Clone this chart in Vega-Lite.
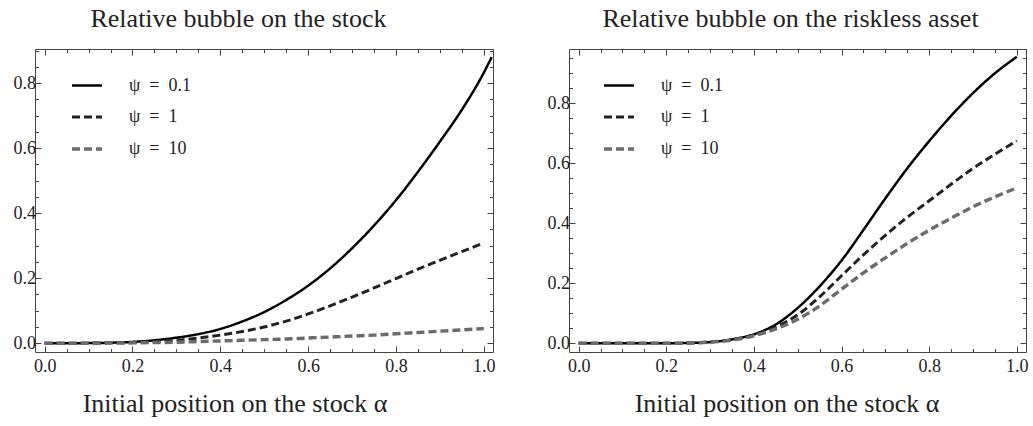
{
  "$schema": "https://vega.github.io/schema/vega-lite/v6.json",
  "background": "white",
  "padding": {"left": 12, "top": 4, "right": 0, "bottom": 0},
  "config": {
    "font": "Liberation Serif",
    "view": {"stroke": "#444", "strokeWidth": 1}
  },
  "datasets": {
    "stock": [
      {"alpha":0,"psi":"0.1","v":0},{"alpha":0.05,"psi":"0.1","v":0},{"alpha":0.1,"psi":"0.1","v":0.0005},{"alpha":0.15,"psi":"0.1","v":0.0015},{"alpha":0.2,"psi":"0.1","v":0.004},{"alpha":0.25,"psi":"0.1","v":0.009},{"alpha":0.3,"psi":"0.1","v":0.017},{"alpha":0.35,"psi":"0.1","v":0.028},{"alpha":0.4,"psi":"0.1","v":0.044},{"alpha":0.45,"psi":"0.1","v":0.067},{"alpha":0.5,"psi":"0.1","v":0.096},{"alpha":0.55,"psi":"0.1","v":0.133},{"alpha":0.6,"psi":"0.1","v":0.177},{"alpha":0.65,"psi":"0.1","v":0.23},{"alpha":0.7,"psi":"0.1","v":0.292},{"alpha":0.75,"psi":"0.1","v":0.362},{"alpha":0.8,"psi":"0.1","v":0.44},{"alpha":0.85,"psi":"0.1","v":0.527},{"alpha":0.9,"psi":"0.1","v":0.62},{"alpha":0.95,"psi":"0.1","v":0.718},{"alpha":1,"psi":"0.1","v":0.832},{"alpha":1.018,"psi":"0.1","v":0.88},
      {"alpha":0,"psi":"1","v":0},{"alpha":0.05,"psi":"1","v":0},{"alpha":0.1,"psi":"1","v":0.0003},{"alpha":0.15,"psi":"1","v":0.001},{"alpha":0.2,"psi":"1","v":0.002},{"alpha":0.25,"psi":"1","v":0.005},{"alpha":0.3,"psi":"1","v":0.009},{"alpha":0.35,"psi":"1","v":0.016},{"alpha":0.4,"psi":"1","v":0.025},{"alpha":0.45,"psi":"1","v":0.036},{"alpha":0.5,"psi":"1","v":0.05},{"alpha":0.55,"psi":"1","v":0.068},{"alpha":0.6,"psi":"1","v":0.09},{"alpha":0.65,"psi":"1","v":0.115},{"alpha":0.7,"psi":"1","v":0.142},{"alpha":0.75,"psi":"1","v":0.17},{"alpha":0.8,"psi":"1","v":0.199},{"alpha":0.85,"psi":"1","v":0.228},{"alpha":0.9,"psi":"1","v":0.255},{"alpha":0.95,"psi":"1","v":0.282},{"alpha":1,"psi":"1","v":0.308},
      {"alpha":0,"psi":"10","v":0},{"alpha":0.05,"psi":"10","v":0},{"alpha":0.1,"psi":"10","v":0.0002},{"alpha":0.15,"psi":"10","v":0.0005},{"alpha":0.2,"psi":"10","v":0.001},{"alpha":0.25,"psi":"10","v":0.002},{"alpha":0.3,"psi":"10","v":0.003},{"alpha":0.35,"psi":"10","v":0.005},{"alpha":0.4,"psi":"10","v":0.007},{"alpha":0.45,"psi":"10","v":0.009},{"alpha":0.5,"psi":"10","v":0.011},{"alpha":0.55,"psi":"10","v":0.013},{"alpha":0.6,"psi":"10","v":0.016},{"alpha":0.65,"psi":"10","v":0.019},{"alpha":0.7,"psi":"10","v":0.022},{"alpha":0.75,"psi":"10","v":0.025},{"alpha":0.8,"psi":"10","v":0.029},{"alpha":0.85,"psi":"10","v":0.033},{"alpha":0.9,"psi":"10","v":0.037},{"alpha":0.95,"psi":"10","v":0.041},{"alpha":1,"psi":"10","v":0.045}
    ],
    "riskless": [
      {"alpha":0,"psi":"0.1","v":0},{"alpha":0.05,"psi":"0.1","v":0},{"alpha":0.1,"psi":"0.1","v":0},{"alpha":0.15,"psi":"0.1","v":0},{"alpha":0.2,"psi":"0.1","v":0.0002},{"alpha":0.25,"psi":"0.1","v":0.001},{"alpha":0.3,"psi":"0.1","v":0.004},{"alpha":0.35,"psi":"0.1","v":0.013},{"alpha":0.4,"psi":"0.1","v":0.03},{"alpha":0.45,"psi":"0.1","v":0.063},{"alpha":0.5,"psi":"0.1","v":0.118},{"alpha":0.55,"psi":"0.1","v":0.19},{"alpha":0.6,"psi":"0.1","v":0.276},{"alpha":0.65,"psi":"0.1","v":0.378},{"alpha":0.7,"psi":"0.1","v":0.483},{"alpha":0.75,"psi":"0.1","v":0.583},{"alpha":0.8,"psi":"0.1","v":0.674},{"alpha":0.85,"psi":"0.1","v":0.758},{"alpha":0.9,"psi":"0.1","v":0.834},{"alpha":0.95,"psi":"0.1","v":0.9},{"alpha":1,"psi":"0.1","v":0.955},
      {"alpha":0,"psi":"1","v":0},{"alpha":0.05,"psi":"1","v":0},{"alpha":0.1,"psi":"1","v":0},{"alpha":0.15,"psi":"1","v":0},{"alpha":0.2,"psi":"1","v":0.0002},{"alpha":0.25,"psi":"1","v":0.001},{"alpha":0.3,"psi":"1","v":0.004},{"alpha":0.35,"psi":"1","v":0.012},{"alpha":0.4,"psi":"1","v":0.028},{"alpha":0.45,"psi":"1","v":0.055},{"alpha":0.5,"psi":"1","v":0.095},{"alpha":0.55,"psi":"1","v":0.155},{"alpha":0.6,"psi":"1","v":0.225},{"alpha":0.65,"psi":"1","v":0.295},{"alpha":0.7,"psi":"1","v":0.36},{"alpha":0.75,"psi":"1","v":0.42},{"alpha":0.8,"psi":"1","v":0.475},{"alpha":0.85,"psi":"1","v":0.53},{"alpha":0.9,"psi":"1","v":0.583},{"alpha":0.95,"psi":"1","v":0.63},{"alpha":1,"psi":"1","v":0.675},
      {"alpha":0,"psi":"10","v":0},{"alpha":0.05,"psi":"10","v":0},{"alpha":0.1,"psi":"10","v":0},{"alpha":0.15,"psi":"10","v":0},{"alpha":0.2,"psi":"10","v":0.0002},{"alpha":0.25,"psi":"10","v":0.001},{"alpha":0.3,"psi":"10","v":0.004},{"alpha":0.35,"psi":"10","v":0.011},{"alpha":0.4,"psi":"10","v":0.025},{"alpha":0.45,"psi":"10","v":0.048},{"alpha":0.5,"psi":"10","v":0.08},{"alpha":0.55,"psi":"10","v":0.125},{"alpha":0.6,"psi":"10","v":0.18},{"alpha":0.65,"psi":"10","v":0.235},{"alpha":0.7,"psi":"10","v":0.285},{"alpha":0.75,"psi":"10","v":0.333},{"alpha":0.8,"psi":"10","v":0.377},{"alpha":0.85,"psi":"10","v":0.417},{"alpha":0.9,"psi":"10","v":0.455},{"alpha":0.95,"psi":"10","v":0.488},{"alpha":1,"psi":"10","v":0.518}
    ]
  },
  "hconcat": [
    {
      "width": 458, "height": 303,
      "data": {"name": "stock"},
      "layer": [
        {
          "mark": {"type": "line", "clip": true, "strokeCap": "butt", "interpolate": "monotone"},
          "encoding": {
            "x": {"field": "alpha", "type": "quantitative", "scale": {"domain": [-0.022, 1.021], "nice": false, "zero": false},
              "axis": {"orient": "bottom", "values": [0,0.05,0.1,0.15,0.2,0.25,0.3,0.35,0.4,0.45,0.5,0.55,0.6,0.65,0.7,0.75,0.8,0.85,0.9,0.95,1], "domain": false, "grid": false, "tickColor": "#444", "tickWidth": 1,
                "tickSize": {"condition": {"test": "abs(datum.value*5-round(datum.value*5))<1e-6", "value": -6}, "value": -3.5},
                "labelExpr": "abs(datum.value*5-round(datum.value*5))<1e-6 ? format(datum.value,'.1f') : ''",
                "labelOverlap": false, "labelFlush": false, "labelBound": false, "labelFontSize": 18, "labelFont": "Liberation Serif", "labelColor": "#222", "labelPadding": 11.5,
                "title": "Initial position on the stock α", "titleFontSize": 26, "titleFontWeight": "normal", "titleFont": "Liberation Serif", "titleColor": "#222", "titleX": 199.5, "titleY": 59, "titleBaseline": "alphabetic", "titleAlign": "center", "titleAnchor": null}},
            "y": {"field": "v", "type": "quantitative", "scale": {"domain": [-0.027, 0.905], "nice": false, "zero": false},
              "axis": {"orient": "left", "values": [0,0.05,0.1,0.15,0.2,0.25,0.3,0.35,0.4,0.45,0.5,0.55,0.6,0.65,0.7,0.75,0.8,0.85,0.9], "domain": false, "grid": false, "tickColor": "#444", "tickWidth": 1,
                "tickSize": {"condition": {"test": "abs(datum.value*5-round(datum.value*5))<1e-6", "value": -6}, "value": -3.5},
                "labelExpr": "abs(datum.value*5-round(datum.value*5))<1e-6 ? format(datum.value,'.1f') : ''",
                "labelOverlap": false, "labelFlush": false, "labelBound": false, "labelFontSize": 18, "labelFont": "Liberation Serif", "labelColor": "#222", "labelPadding": 5.5,
                "title": null}},
            "color": {"field": "psi", "type": "nominal", "scale": {"domain": ["0.1","1","10"], "range": ["#000000","#222222","#6b6b6b"]},
              "legend": {"orient": "none", "legendX": 35, "legendY": 20, "title": null, "symbolType": "stroke", "symbolSize": 900, "symbolStrokeWidth": 3, "labelOffset": 25, "labelFontSize": 18, "labelFont": "Liberation Serif", "labelColor": "#222", "rowPadding": 5.5, "labelExpr": "'ψ\u2002=\u2002' + datum.label"}},
            "strokeDash": {"field": "psi", "type": "nominal", "scale": {"domain": ["0.1","1","10"], "range": [[1,0],[8,4],[8,4]]},
              "legend": {"orient": "none", "legendX": 35, "legendY": 20, "title": null, "symbolType": "stroke", "symbolSize": 900, "symbolStrokeWidth": 3, "labelOffset": 25, "labelFontSize": 18, "labelFont": "Liberation Serif", "labelColor": "#222", "rowPadding": 5.5, "labelExpr": "'ψ\u2002=\u2002' + datum.label"}},
            "strokeWidth": {"field": "psi", "type": "nominal", "scale": {"domain": ["0.1","1","10"], "range": [2.5,3.4,3.4]},
              "legend": {"orient": "none", "legendX": 35, "legendY": 20, "title": null, "symbolType": "stroke", "symbolSize": 900, "labelOffset": 25, "labelFontSize": 18, "labelFont": "Liberation Serif", "labelColor": "#222", "rowPadding": 5.5, "labelExpr": "'ψ\u2002=\u2002' + datum.label"}}
          }
        },
        {
          "mark": {"type": "line", "opacity": 0},
          "encoding": {
            "x": {"field": "alpha", "type": "quantitative", "scale": {"domain": [-0.022, 1.021], "nice": false, "zero": false},
              "axis": {"orient": "top", "values": [0,0.05,0.1,0.15,0.2,0.25,0.3,0.35,0.4,0.45,0.5,0.55,0.6,0.65,0.7,0.75,0.8,0.85,0.9,0.95,1], "domain": false, "grid": false, "labels": false, "tickColor": "#444", "tickWidth": 1,
                "tickSize": {"condition": {"test": "abs(datum.value*5-round(datum.value*5))<1e-6", "value": -6}, "value": -3.5},
                "title": "Relative bubble on the stock", "titleFontSize": 26, "titleFontWeight": "normal", "titleFont": "Liberation Serif", "titleColor": "#222", "titleX": 203, "titleY": -23, "titleBaseline": "alphabetic", "titleAlign": "center", "titleAnchor": null}},
            "y": {"field": "v", "type": "quantitative", "scale": {"domain": [-0.027, 0.905], "nice": false, "zero": false},
              "axis": {"orient": "right", "values": [0,0.05,0.1,0.15,0.2,0.25,0.3,0.35,0.4,0.45,0.5,0.55,0.6,0.65,0.7,0.75,0.8,0.85,0.9], "domain": false, "grid": false, "labels": false, "title": null, "tickColor": "#444", "tickWidth": 1,
                "tickSize": {"condition": {"test": "abs(datum.value*5-round(datum.value*5))<1e-6", "value": -6}, "value": -3.5}}}
          }
        }
      ],
      "resolve": {"axis": {"x": "independent", "y": "independent"}}
    },
    {
      "width": 457, "height": 303,
      "data": {"name": "riskless"},
      "layer": [
        {
          "mark": {"type": "line", "clip": true, "strokeCap": "butt", "interpolate": "monotone"},
          "encoding": {
            "x": {"field": "alpha", "type": "quantitative", "scale": {"domain": [-0.022, 1.021], "nice": false, "zero": false},
              "axis": {"orient": "bottom", "values": [0,0.05,0.1,0.15,0.2,0.25,0.3,0.35,0.4,0.45,0.5,0.55,0.6,0.65,0.7,0.75,0.8,0.85,0.9,0.95,1], "domain": false, "grid": false, "tickColor": "#444", "tickWidth": 1,
                "tickSize": {"condition": {"test": "abs(datum.value*5-round(datum.value*5))<1e-6", "value": -6}, "value": -3.5},
                "labelExpr": "abs(datum.value*5-round(datum.value*5))<1e-6 ? format(datum.value,'.1f') : ''",
                "labelOverlap": false, "labelFlush": false, "labelBound": false, "labelFontSize": 18, "labelFont": "Liberation Serif", "labelColor": "#222", "labelPadding": 11.5,
                "title": "Initial position on the stock α", "titleFontSize": 26, "titleFontWeight": "normal", "titleFont": "Liberation Serif", "titleColor": "#222", "titleX": 217.5, "titleY": 59, "titleBaseline": "alphabetic", "titleAlign": "center", "titleAnchor": null}},
            "y": {"field": "v", "type": "quantitative", "scale": {"domain": [-0.029, 0.981], "nice": false, "zero": false},
              "axis": {"orient": "left", "values": [0,0.05,0.1,0.15,0.2,0.25,0.3,0.35,0.4,0.45,0.5,0.55,0.6,0.65,0.7,0.75,0.8,0.85,0.9,0.95], "domain": false, "grid": false, "tickColor": "#444", "tickWidth": 1,
                "tickSize": {"condition": {"test": "abs(datum.value*5-round(datum.value*5))<1e-6", "value": -6}, "value": -3.5},
                "labelExpr": "abs(datum.value*5-round(datum.value*5))<1e-6 ? format(datum.value,'.1f') : ''",
                "labelOverlap": false, "labelFlush": false, "labelBound": false, "labelFontSize": 18, "labelFont": "Liberation Serif", "labelColor": "#222", "labelPadding": 5.5,
                "title": null}},
            "color": {"field": "psi", "type": "nominal", "scale": {"domain": ["0.1","1","10"], "range": ["#000000","#222222","#6b6b6b"]},
              "legend": {"orient": "none", "legendX": 33, "legendY": 20, "title": null, "symbolType": "stroke", "symbolSize": 900, "symbolStrokeWidth": 3, "labelOffset": 25, "labelFontSize": 18, "labelFont": "Liberation Serif", "labelColor": "#222", "rowPadding": 5.5, "labelExpr": "'ψ\u2002=\u2002' + datum.label"}},
            "strokeDash": {"field": "psi", "type": "nominal", "scale": {"domain": ["0.1","1","10"], "range": [[1,0],[8,4],[8,4]]},
              "legend": {"orient": "none", "legendX": 33, "legendY": 20, "title": null, "symbolType": "stroke", "symbolSize": 900, "symbolStrokeWidth": 3, "labelOffset": 25, "labelFontSize": 18, "labelFont": "Liberation Serif", "labelColor": "#222", "rowPadding": 5.5, "labelExpr": "'ψ\u2002=\u2002' + datum.label"}},
            "strokeWidth": {"field": "psi", "type": "nominal", "scale": {"domain": ["0.1","1","10"], "range": [2.5,3.4,3.4]},
              "legend": {"orient": "none", "legendX": 33, "legendY": 20, "title": null, "symbolType": "stroke", "symbolSize": 900, "labelOffset": 25, "labelFontSize": 18, "labelFont": "Liberation Serif", "labelColor": "#222", "rowPadding": 5.5, "labelExpr": "'ψ\u2002=\u2002' + datum.label"}}
          }
        },
        {
          "mark": {"type": "line", "opacity": 0},
          "encoding": {
            "x": {"field": "alpha", "type": "quantitative", "scale": {"domain": [-0.022, 1.021], "nice": false, "zero": false},
              "axis": {"orient": "top", "values": [0,0.05,0.1,0.15,0.2,0.25,0.3,0.35,0.4,0.45,0.5,0.55,0.6,0.65,0.7,0.75,0.8,0.85,0.9,0.95,1], "domain": false, "grid": false, "labels": false, "tickColor": "#444", "tickWidth": 1,
                "tickSize": {"condition": {"test": "abs(datum.value*5-round(datum.value*5))<1e-6", "value": -6}, "value": -3.5},
                "title": "Relative bubble on the riskless asset", "titleFontSize": 26, "titleFontWeight": "normal", "titleFont": "Liberation Serif", "titleColor": "#222", "titleX": 221, "titleY": -23, "titleBaseline": "alphabetic", "titleAlign": "center", "titleAnchor": null}},
            "y": {"field": "v", "type": "quantitative", "scale": {"domain": [-0.029, 0.981], "nice": false, "zero": false},
              "axis": {"orient": "right", "values": [0,0.05,0.1,0.15,0.2,0.25,0.3,0.35,0.4,0.45,0.5,0.55,0.6,0.65,0.7,0.75,0.8,0.85,0.9,0.95], "domain": false, "grid": false, "labels": false, "title": null, "tickColor": "#444", "tickWidth": 1,
                "tickSize": {"condition": {"test": "abs(datum.value*5-round(datum.value*5))<1e-6", "value": -6}, "value": -3.5}}}
          }
        }
      ],
      "resolve": {"axis": {"x": "independent", "y": "independent"}}
    }
  ],
  "spacing": 76,
  "bounds": "flush",
  "resolve": {"legend": {"color": "independent", "strokeDash": "independent", "strokeWidth": "independent"}, "scale": {"color": "independent", "strokeDash": "independent", "strokeWidth": "independent"}}
}
